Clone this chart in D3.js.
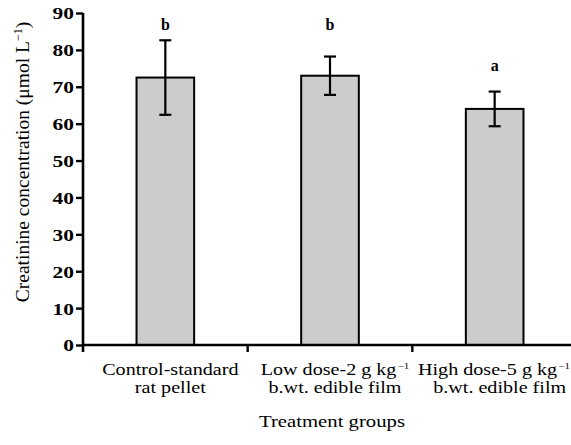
<!DOCTYPE html>
<html>
<head>
<meta charset="utf-8">
<script src="https://cdn.jsdelivr.net/npm/d3@7"></script>
<style>
  body { margin: 0; background: #fff; }
  svg { display: block; font-family: "Liberation Serif", "Times New Roman", serif; }
</style>
</head>
<body>
<div id="chart"></div>
<script>
// Creatinine by treatment group
var groups = ['control', 'low', 'high'];
var labelLines = [
  [['Control-standard'], ['rat pellet']],
  [['Low dose-2 g kg', '\u22121'], ['b.wt. edible film']],
  [['High dose-5 g kg', '\u22121'], ['b.wt. edible film']]
];
var means = [72.5, 73.0, 64.0];
var errors = [10.1, 5.2, 4.7];
var letters = ['b', 'b', 'a'];
var letterAt = [85.5, 85.5, 74.3];
var yTicks = [0, 10, 20, 30, 40, 50, 60, 70, 80, 90];

var width = 571, height = 445;
var margin = { top: 13, right: -6, bottom: 100, left: 83 };
var stretch = 1.22; // source text is set wide

var svg = d3.select('#chart').append('svg')
  .attr('width', width)
  .attr('height', height);

var x = d3.scaleBand()
  .domain(groups)
  .range([margin.left, width - margin.right])
  .paddingInner(0)
  .paddingOuter(0);

var y = d3.scaleLinear()
  .domain([0, 90])
  .range([height - margin.bottom, margin.top]);

var barW = x.bandwidth() * 0.35;

// wide text helper
function wideText(cx, cy, size, weight) {
  return svg.append('g')
    .attr('transform', 'translate(' + cx + ',' + cy + ') scale(' + stretch + ',1)')
    .append('text')
    .attr('text-anchor', 'middle')
    .attr('font-size', size + 'px')
    .attr('font-weight', weight || 'normal')
    .attr('fill', '#000');
}

// bars
svg.append('g').selectAll('rect')
  .data(groups)
  .enter().append('rect')
  .attr('x', function(d) { return x(d) + x.bandwidth() / 2 - barW / 2; })
  .attr('y', function(d, i) { return y(means[i]); })
  .attr('width', barW)
  .attr('height', function(d, i) { return y(0) - y(means[i]); })
  .attr('fill', '#cccccc')
  .attr('stroke', '#000')
  .attr('stroke-width', 2);

// error bars
var eb = svg.append('g').attr('stroke', '#000').attr('stroke-width', 2.2);
groups.forEach(function(g, i) {
  var cx = x(g) + x.bandwidth() / 2;
  eb.append('line')
    .attr('x1', cx).attr('x2', cx)
    .attr('y1', y(means[i] + errors[i])).attr('y2', y(means[i] - errors[i]));
  [means[i] + errors[i], means[i] - errors[i]].forEach(function(v) {
    eb.append('line')
      .attr('x1', cx - 6).attr('x2', cx + 6)
      .attr('y1', y(v)).attr('y2', y(v));
  });
});

// significance letters
svg.append('g').selectAll('text')
  .data(letters)
  .enter().append('text')
  .attr('x', function(d, i) { return x(groups[i]) + x.bandwidth() / 2; })
  .attr('y', function(d, i) { return y(letterAt[i]); })
  .attr('text-anchor', 'middle')
  .attr('font-size', '16px')
  .attr('font-weight', 'bold')
  .text(function(d) { return d; });

// y axis
var yAxis = svg.append('g')
  .attr('transform', 'translate(' + margin.left + ',0)')
  .call(d3.axisLeft(y).tickValues(yTicks).tickSize(7).tickPadding(2).tickSizeOuter(0));
yAxis.select('.domain').attr('stroke-width', 2.6)
  .attr('d', 'M0,' + (margin.top) + 'V' + (y(0) + 7));
yAxis.selectAll('.tick line').attr('stroke-width', 2.4);
yAxis.selectAll('.tick text')
  .attr('font-family', '"Liberation Serif", serif')
  .attr('font-size', '16.5px')
  .attr('font-weight', 'bold')
  .attr('x', -9 / 1.3)
  .attr('transform', 'scale(1.3,1)')
  .attr('dy', '0.36em')
  .attr('fill', '#000');

// x axis
var xAxis = svg.append('g')
  .attr('transform', 'translate(0,' + y(0) + ')');
xAxis.append('line')
  .attr('x1', margin.left).attr('x2', width)
  .attr('stroke', '#000').attr('stroke-width', 2.6);
xAxis.selectAll('.xt')
  .data(groups.slice(1))
  .enter().append('line')
  .attr('x1', function(d) { return x(d); })
  .attr('x2', function(d) { return x(d); })
  .attr('y1', 0).attr('y2', 7)
  .attr('stroke', '#000').attr('stroke-width', 2.4);

// category labels
groups.forEach(function(g, i) {
  labelLines[i].forEach(function(line, j) {
    var cx = x(g) + x.bandwidth() / 2 + 5;
    var t = wideText(cx, y(0) + 30 + j * 18, 16.5);
    t.append('tspan').text(line[0]);
    if (line[1]) {
      t.append('tspan')
        .attr('dx', 1)
        .attr('baseline-shift', '6')
        .attr('font-size', '9px')
        .text(line[1]);
    }
    // keep it inside the right edge
    var half = t.node().getBBox().width * stretch / 2;
    if (cx + half > width - 1) {
      t.node().parentNode.setAttribute('transform',
        'translate(' + (width - 1 - half) + ',' + (y(0) + 30 + j * 18) + ') scale(' + stretch + ',1)');
    }
  });
});

// axis titles
wideText(332, 427, 17).text('Treatment groups');

var yt = svg.append('text')
  .attr('transform', 'translate(29,' + 162 + ') rotate(-90)')
  .attr('text-anchor', 'middle')
  .attr('font-size', '19.5px');
yt.append('tspan').text('Creatinine concentration (\u03bcmol L');
yt.append('tspan').attr('baseline-shift', '7').attr('font-size', '12px').text('\u22121');
yt.append('tspan').text(')');
</script>
</body>
</html>
